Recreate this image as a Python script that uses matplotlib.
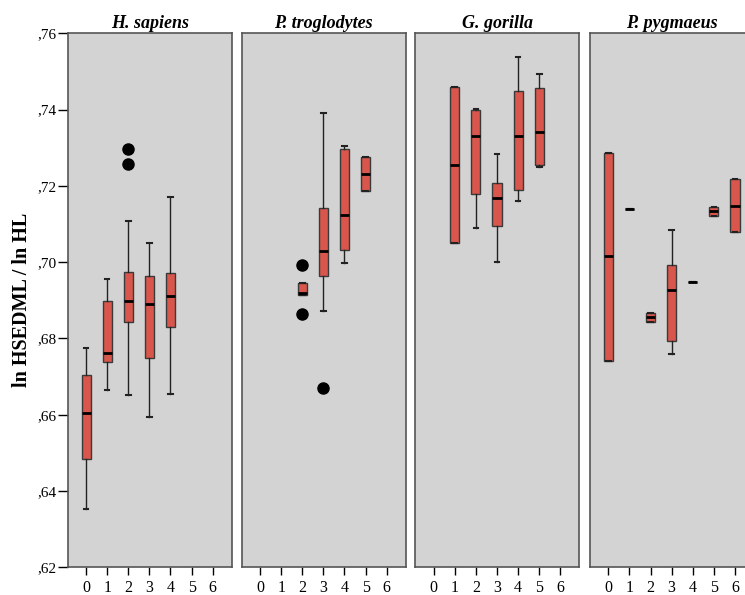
import numpy as np
import matplotlib
matplotlib.use("Agg")
import matplotlib.pyplot as plt
from matplotlib.ticker import FuncFormatter

plt.rcParams['font.family'] = ['Liberation Serif', 'DejaVu Serif']

species = ['H. sapiens', 'P. troglodytes', 'G. gorilla', 'P. pygmaeus']
x_ticks = [0, 1, 2, 3, 4, 5, 6]

# H. sapiens
sap_pos = [0, 1, 2, 3, 4]
sap_whislo = [0.6352, 0.6665, 0.6652, 0.6594, 0.6654]
sap_q1 = [0.6484, 0.6738, 0.6844, 0.6748, 0.6829]
sap_med = [0.6604, 0.6762, 0.6899, 0.6891, 0.6911]
sap_q3 = [0.6705, 0.6897, 0.6975, 0.6963, 0.6971]
sap_whishi = [0.6776, 0.6955, 0.7107, 0.7049, 0.7171]
sap_fliers = [[], [], [0.7296, 0.7258], [], []]

# P. troglodytes
tro_pos = [2, 3, 4, 5]
tro_whislo = [0.6914, 0.6873, 0.6997, 0.7187]
tro_q1 = [0.6914, 0.6964, 0.7032, 0.7187]
tro_med = [0.6918, 0.7028, 0.7124, 0.7232]
tro_q3 = [0.6945, 0.7141, 0.7296, 0.7277]
tro_whishi = [0.6945, 0.7392, 0.7305, 0.7277]
tro_fliers = [[0.6993, 0.6864], [0.6670], [], []]

# G. gorilla
gor_pos = [1, 2, 3, 4, 5]
gor_whislo = [0.7050, 0.7089, 0.7000, 0.7161, 0.7250]
gor_q1 = [0.7050, 0.7179, 0.7096, 0.7189, 0.7256]
gor_med = [0.7255, 0.7331, 0.7169, 0.7330, 0.7341]
gor_q3 = [0.7459, 0.7399, 0.7208, 0.7449, 0.7457]
gor_whishi = [0.7459, 0.7402, 0.7283, 0.7539, 0.7494]
gor_fliers = [[], [], [], [], []]

# P. pygmaeus
pyg_pos = [0, 1, 2, 3, 4, 5, 6]
pyg_whislo = [0.6742, 0.7139, 0.6842, 0.6760, 0.6949, 0.7121, 0.7079]
pyg_q1 = [0.6742, 0.7139, 0.6842, 0.6792, 0.6949, 0.7121, 0.7079]
pyg_med = [0.7015, 0.7139, 0.6855, 0.6927, 0.6949, 0.7134, 0.7148]
pyg_q3 = [0.7287, 0.7139, 0.6868, 0.6992, 0.6949, 0.7144, 0.7218]
pyg_whishi = [0.7287, 0.7139, 0.6868, 0.7083, 0.6949, 0.7144, 0.7218]
pyg_fliers = [[], [], [], [], [], [], []]

groups = [
    (sap_pos, sap_whislo, sap_q1, sap_med, sap_q3, sap_whishi, sap_fliers),
    (tro_pos, tro_whislo, tro_q1, tro_med, tro_q3, tro_whishi, tro_fliers),
    (gor_pos, gor_whislo, gor_q1, gor_med, gor_q3, gor_whishi, gor_fliers),
    (pyg_pos, pyg_whislo, pyg_q1, pyg_med, pyg_q3, pyg_whishi, pyg_fliers),
]

fig = plt.figure(figsize=(7.45, 5.95), dpi=100)

box_color = '#d9564c'
bg = '#d3d3d3'
lefts = [67.7, 241.7, 415.3, 590.0]
pw = 164.0
bottom = 1 - 567.3 / 595
height = (567.3 - 33.3) / 595

for i, (name, g) in enumerate(zip(species, groups)):
    ax = fig.add_axes([lefts[i] / 745, bottom, pw / 745, height])
    pos, lo, q1, med, q3, hi, fl = g
    stats = []
    for k in range(len(pos)):
        stats.append(dict(whislo=lo[k], q1=q1[k], med=med[k], q3=q3[k],
                          whishi=hi[k], fliers=fl[k]))
    ax.bxp(stats, positions=pos, widths=0.43, capwidths=0.22,
           patch_artist=True, showfliers=True,
           boxprops=dict(facecolor=box_color, edgecolor='#3a3a3a', linewidth=1),
           medianprops=dict(color='black', linewidth=2),
           whiskerprops=dict(color='#222222', linewidth=1),
           capprops=dict(color='#222222', linewidth=1.5),
           flierprops=dict(marker='o', markerfacecolor='black',
                           markeredgecolor='black', markersize=8))
    ax.set_facecolor(bg)
    ax.set_xlim(-0.87, 6.9)
    ax.set_ylim(0.62, 0.76)
    ax.set_xticks(x_ticks)
    ax.set_xticklabels([str(t) for t in x_ticks])
    ax.tick_params(axis='x', length=6, width=1, pad=3, labelsize=11.5)
    for s in ax.spines.values():
        s.set_color('#555555')
        s.set_linewidth(1.2)
    ax.set_title(name, fontsize=13, fontweight='bold', style='italic', pad=4)
    if i == 0:
        ax.set_yticks(np.arange(0.62, 0.7601, 0.02))
        ax.yaxis.set_major_formatter(
            FuncFormatter(lambda v, p: ('%.2f' % v)[1:].replace('.', ',')))
        ax.tick_params(axis='y', length=7, width=1, pad=1, labelsize=11)
        ax.set_ylabel('ln HSEDML / ln HL', fontsize=14.5, fontweight='bold',
                      labelpad=4)
    else:
        ax.set_yticks([])

fig.savefig('out.png', dpi=100)
